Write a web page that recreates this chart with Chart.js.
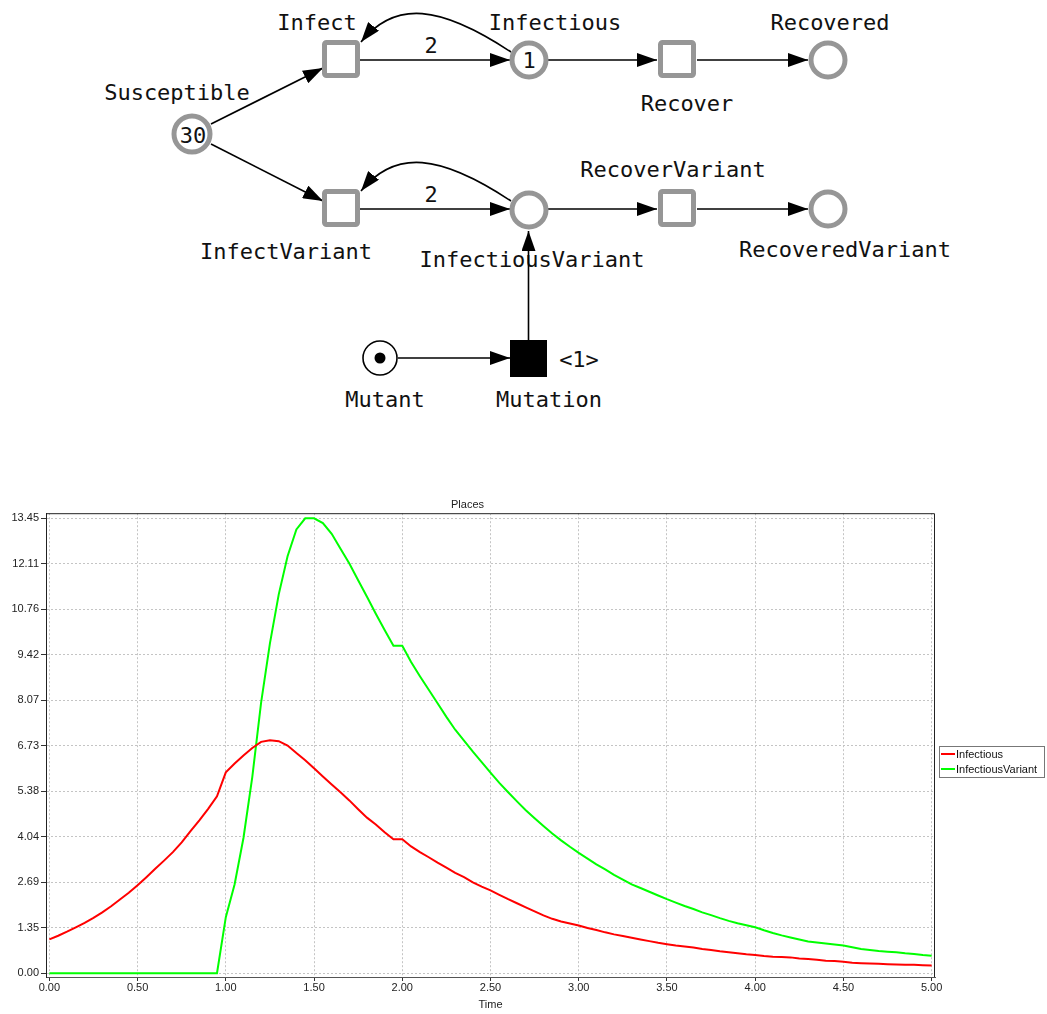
<!DOCTYPE html>
<html>
<head>
<meta charset="utf-8">
<script src="https://cdn.jsdelivr.net/npm/chart.js@4"></script>
<style>
  body { margin: 0; background: #fff; width: 1047px; height: 1014px; overflow: hidden; position: relative; }
  #net { position: absolute; left: 0; top: 0; }
  #net text { font-family: "DejaVu Sans Mono", monospace; font-size: 22px; fill: #111; }
  #plot { position: absolute; left: 0; top: 490px; }
</style>
</head>
<body>

<svg id="net" width="1047" height="430" xmlns="http://www.w3.org/2000/svg">
  <defs>
    <marker id="arr" markerUnits="userSpaceOnUse" markerWidth="20" markerHeight="14" refX="20" refY="7" orient="auto">
      <path d="M0,0 L20,7 L0,14 Z" fill="#000"/>
    </marker>
  </defs>
  <g stroke="#000" stroke-width="1.6" fill="none">
    <line x1="211" y1="124" x2="323" y2="68" marker-end="url(#arr)"/>
    <line x1="211" y1="144" x2="323" y2="201" marker-end="url(#arr)"/>
    <line x1="360" y1="60" x2="510" y2="60" marker-end="url(#arr)"/>
    <line x1="360" y1="209" x2="510" y2="209" marker-end="url(#arr)"/>
    <line x1="548" y1="60" x2="657" y2="60" marker-end="url(#arr)"/>
    <line x1="697" y1="60" x2="808" y2="60" marker-end="url(#arr)"/>
    <line x1="548" y1="209" x2="657" y2="209" marker-end="url(#arr)"/>
    <line x1="697" y1="209" x2="808" y2="209" marker-end="url(#arr)"/>
    <line x1="398" y1="358" x2="510" y2="358" marker-end="url(#arr)"/>
    <path d="M511 52 C 440 5, 395 0, 361 42" marker-end="url(#arr)"/>
    <path d="M511 201 C 440 154, 395 149, 361 191" marker-end="url(#arr)"/>
  </g>
  <g stroke="#969696" stroke-width="5" fill="#fff">
    <circle cx="192" cy="134" r="18"/>
    <circle cx="529" cy="60" r="17"/>
    <circle cx="828" cy="60" r="17"/>
    <circle cx="529" cy="210" r="17"/>
    <circle cx="828" cy="209" r="17"/>
    <rect x="324.5" y="42.5" width="33" height="33" rx="2"/>
    <rect x="324.5" y="191.5" width="33" height="33" rx="2"/>
    <rect x="660.5" y="42.5" width="33" height="33" rx="2"/>
    <rect x="660.5" y="191.5" width="33" height="33" rx="2"/>
  </g>
  <circle cx="380" cy="358" r="17" stroke="#000" stroke-width="1.6" fill="#fff"/>
  <circle cx="380" cy="358" r="5.5" fill="#000"/>
  <rect x="510" y="340" width="37" height="37" fill="#000"/>

  <text x="177" y="100" text-anchor="middle">Susceptible</text>
  <text x="193" y="143" text-anchor="middle">30</text>
  <text x="317" y="30" text-anchor="middle">Infect</text>
  <text x="555" y="30" text-anchor="middle">Infectious</text>
  <text x="529" y="68" text-anchor="middle">1</text>
  <text x="830" y="30" text-anchor="middle">Recovered</text>
  <text x="687" y="111" text-anchor="middle">Recover</text>
  <text x="431" y="53" text-anchor="middle">2</text>
  <text x="431" y="202" text-anchor="middle">2</text>
  <text x="286" y="259" text-anchor="middle">InfectVariant</text>
  <text x="532" y="267" text-anchor="middle">InfectiousVariant</text>
  <text x="673" y="177" text-anchor="middle">RecoverVariant</text>
  <text x="845" y="257" text-anchor="middle">RecoveredVariant</text>
  <text x="385" y="407" text-anchor="middle">Mutant</text>
  <text x="549" y="407" text-anchor="middle">Mutation</text>
  <text x="579" y="367" text-anchor="middle">&lt;1&gt;</text>
  <line x1="528.5" y1="340" x2="528.5" y2="231" stroke="#000" stroke-width="1.6" marker-end="url(#arr)"/>
</svg>

<div id="plot"><canvas id="placesChart" width="1047" height="524"></canvas></div>

<script>
// sample times of the simulation output
let times = [
    0.00, 0.05, 0.10, 0.15, 0.20, 0.25, 0.30, 0.35, 0.40, 0.45,
    0.50, 0.55, 0.60, 0.65, 0.70, 0.75, 0.80, 0.85, 0.90, 0.95,
    1.00, 1.05, 1.10, 1.15, 1.20, 1.25, 1.30, 1.35, 1.40, 1.45,
    1.50, 1.55, 1.60, 1.65, 1.70, 1.75, 1.80, 1.85, 1.90, 1.95,
    2.00, 2.05, 2.10, 2.15, 2.20, 2.25, 2.30, 2.35, 2.40, 2.45,
    2.50, 2.55, 2.60, 2.65, 2.70, 2.75, 2.80, 2.85, 2.90, 2.95,
    3.00, 3.05, 3.10, 3.15, 3.20, 3.25, 3.30, 3.35, 3.40, 3.45,
    3.50, 3.55, 3.60, 3.65, 3.70, 3.75, 3.80, 3.85, 3.90, 3.95,
    4.00, 4.05, 4.10, 4.15, 4.20, 4.25, 4.30, 4.35, 4.40, 4.45,
    4.50, 4.55, 4.60, 4.65, 4.70, 4.75, 4.80, 4.85, 4.90, 4.95,
    5.00
];
let infectious = [
    1.00, 1.11, 1.23, 1.36, 1.49, 1.64, 1.80, 1.98, 2.18, 2.38,
    2.60, 2.84, 3.09, 3.33, 3.58, 3.87, 4.20, 4.52, 4.86, 5.23,
    5.94, 6.20, 6.44, 6.66, 6.84, 6.89, 6.86, 6.73, 6.51, 6.30,
    6.06, 5.82, 5.58, 5.35, 5.11, 4.85, 4.60, 4.40, 4.17, 3.96,
    3.96, 3.75, 3.58, 3.43, 3.27, 3.12, 2.97, 2.84, 2.69, 2.56,
    2.45, 2.32, 2.19, 2.07, 1.95, 1.83, 1.71, 1.61, 1.53, 1.47,
    1.41, 1.34, 1.28, 1.21, 1.15, 1.10, 1.05, 1.00, 0.95, 0.90,
    0.86, 0.82, 0.79, 0.76, 0.72, 0.69, 0.65, 0.62, 0.59, 0.56,
    0.54, 0.51, 0.49, 0.48, 0.47, 0.44, 0.42, 0.40, 0.37, 0.36,
    0.34, 0.31, 0.30, 0.29, 0.28, 0.27, 0.26, 0.25, 0.25, 0.24,
    0.23
];
let infectiousVariant = [
    0, 0, 0, 0, 0, 0, 0, 0, 0, 0,
    0, 0, 0, 0, 0, 0, 0, 0, 0, 0,
    1.66, 2.63, 4.00, 5.80, 8.00, 9.75, 11.20, 12.33, 13.12, 13.45,
    13.45, 13.31, 12.99, 12.55, 12.11, 11.62, 11.13, 10.63, 10.15, 9.68,
    9.68, 9.20, 8.78, 8.38, 7.98, 7.58, 7.20, 6.88, 6.55, 6.24,
    5.93, 5.63, 5.35, 5.08, 4.82, 4.58, 4.35, 4.13, 3.93, 3.74,
    3.56, 3.39, 3.22, 3.07, 2.91, 2.77, 2.63, 2.52, 2.41, 2.30,
    2.19, 2.09, 1.99, 1.90, 1.80, 1.72, 1.63, 1.55, 1.48, 1.42,
    1.36, 1.27, 1.19, 1.12, 1.06, 1.00, 0.94, 0.91, 0.88, 0.85,
    0.82, 0.77, 0.72, 0.69, 0.66, 0.64, 0.62, 0.59, 0.57, 0.54,
    0.52
];
let xTickValues = [0, 0.5, 1, 1.5, 2, 2.5, 3, 3.5, 4, 4.5, 5];
let xTickLabels = ['0.00', '0.50', '1.00', '1.50', '2.00', '2.50', '3.00', '3.50', '4.00', '4.50', '5.00'];
let yTickValues = [0, 1.345, 2.69, 4.035, 5.38, 6.725, 8.07, 9.415, 10.76, 12.105, 13.45];
let yTickLabels = ['0.00', '1.35', '2.69', '4.04', '5.38', '6.73', '8.07', '9.42', '10.76', '12.11', '13.45'];

const FONT = 'Liberation Sans';

function toPoints(values){
    return values.map((v, i) => ({x: times[i], y: v}));
}

// top/right frame + boxed legend with line samples
const framePlugin = {
    id: 'frameLegend',
    afterDraw(chart){
        const ctx = chart.ctx;
        const a = chart.chartArea;
        ctx.save();
        ctx.strokeStyle = '#222';
        ctx.lineWidth = 1;
        ctx.beginPath();
        ctx.moveTo(a.left, a.top + 0.5);
        ctx.lineTo(a.right - 0.5, a.top + 0.5);
        ctx.lineTo(a.right - 0.5, a.bottom);
        ctx.stroke();

        let x0 = Math.round(a.right) + 4;
        let y0 = Math.round((a.top + a.bottom) / 2) + 1;
        ctx.strokeStyle = '#777';
        ctx.strokeRect(x0 + 0.5, y0 + 0.5, 105, 31);
        ctx.font = '11px "' + FONT + '"';
        ctx.textBaseline = 'middle';
        chart.data.datasets.forEach((ds, i) => {
            let y = y0 + 8 + i * 15;
            ctx.strokeStyle = ds.borderColor;
            ctx.lineWidth = 2;
            ctx.beginPath();
            ctx.moveTo(x0 + 2, y);
            ctx.lineTo(x0 + 16, y);
            ctx.stroke();
            ctx.fillStyle = '#111';
            ctx.fillText(ds.label, x0 + 17, y + 1);
        });
        ctx.restore();
    }
};

new Chart(document.getElementById('placesChart'), {
    type: 'line',
    data: {
        datasets: [
            { label: 'Infectious', data: toPoints(infectious), borderColor: '#ff0000', backgroundColor: '#ff0000', borderWidth: 2, pointRadius: 0, tension: 0, fill: false },
            { label: 'InfectiousVariant', data: toPoints(infectiousVariant), borderColor: '#00ff00', backgroundColor: '#00ff00', borderWidth: 2, pointRadius: 0, tension: 0, fill: false }
        ]
    },
    options: {
        responsive: false,
        animation: false,
        devicePixelRatio: 1,
        layout: { padding: { left: 0, right: 112, top: 0, bottom: 0 } },
        plugins: {
            legend: { display: false },
            tooltip: { enabled: false },
            title: {
                display: true, text: 'Places', color: '#222',
                font: { family: FONT, size: 11, weight: 'normal' },
                padding: { top: 8, bottom: 2 }
            }
        },
        scales: {
            x: {
                type: 'linear',
                min: -0.019, max: 5.019,
                afterBuildTicks: s => { s.ticks = xTickValues.map(v => ({value: v})); },
                afterFit: s => { s.height = 37; },
                ticks: {
                    callback: (v, i) => xTickLabels[i],
                    color: '#222', padding: 0, maxRotation: 0,
                    font: { family: FONT, size: 11 }
                },
                grid: { color: '#c4c4c4', tickColor: '#333', tickLength: 4, tickBorderDash: [] },
                border: { display: true, color: '#555', width: 1, dash: [2, 2] },
                title: {
                    display: true, text: 'Time', color: '#222',
                    font: { family: FONT, size: 11 },
                    padding: { top: 1, bottom: 2 }
                }
            },
            y: {
                min: -0.11, max: 13.6,
                afterBuildTicks: s => { s.ticks = yTickValues.map(v => ({value: v})); },
                afterFit: s => { s.width = 46; },
                ticks: {
                    callback: (v, i) => yTickLabels[i],
                    color: '#222', padding: 2,
                    font: { family: FONT, size: 11 }
                },
                grid: { color: '#c4c4c4', tickColor: '#333', tickLength: 5, tickBorderDash: [] },
                border: { display: true, color: '#222', width: 1, dash: [2, 2] }
            }
        }
    },
    plugins: [framePlugin]
});
</script>
</body>
</html>
